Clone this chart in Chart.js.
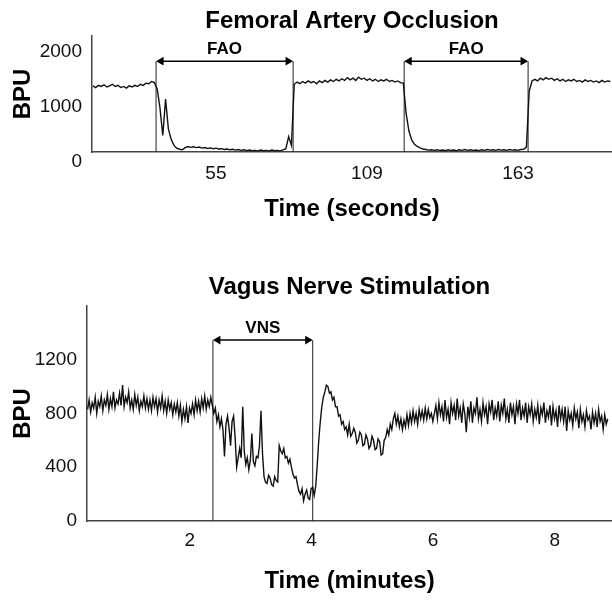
<!DOCTYPE html>
<html>
<head>
<meta charset="utf-8">
<script src="https://cdn.jsdelivr.net/npm/chart.js@4.4.1/dist/chart.umd.min.js"></script>
<style>
body { margin: 0; background: #fff; }
canvas { display: block; }
</style>
</head>
<body>
<canvas id="fao" width="612" height="240"></canvas>
<canvas id="vns" width="612" height="360"></canvas>
<script>

// femoral artery occlusion, one reading per second
var faoStart = 11;
var faoStep = 1;
var faoBpu = [
  1200,1170,1210,1190,1220,1180,1200,1230,1190,1210,1170,1190,1160,1200,1180,1210,1190,1230,1210,1250,1240,1280,1260,
  1150,800,300,960,420,230,120,70,
  50,40,80,100,85,95,80,90,70,80,65,75,60,70,55,60,45,55,40,50,35,45,30,40,25,35,25,30,20,35,25,30,20,35,25,30,20,40,60,280,120,1230,
  1270,1240,1280,1250,1290,1260,1280,1240,1290,1260,1300,1270,1310,1280,1320,1290,1330,1300,1350,1310,1340,1300,1360,1320,1340,1300,1330,1290,1320,1280,1310,1290,1320,1280,1300,1270,1290,1260,
  1250,700,380,220,140,100,75,55,
  45,35,40,30,40,30,35,25,40,30,35,25,40,30,45,30,40,30,35,25,40,30,45,35,40,30,45,35,40,30,45,35,40,30,45,50,
  90,1100,1290,
  1320,1290,1340,1310,1350,1320,1340,1300,1330,1290,1320,1280,1310,1290,1320,1280,1300,1270,1310,1280,1300,1270,1290,1260,1300,1270,1290,1280
];
var faoOn = [33.6, 122.3];
var faoOff = [82.6, 166.6];
var faoArrow = 1650;
var faoXTicks = [55, 109, 163];
var faoYTicks = [0, 1000, 2000];

// vagus nerve stimulation, one reading every 1.5 seconds
var vnsStart = 0.32;
var vnsStep = 0.025;
var vnsBpu = [
  830,900,810,880,840,920,800,890,850,930,820,900,860,940,830,910,850,960,840,900,
  870,950,860,1010,850,920,880,960,840,900,830,940,860,920,820,890,850,930,840,910,
  830,900,820,920,850,910,810,900,840,930,820,890,800,900,830,880,790,870,810,880,
  780,860,740,830,760,850,730,840,800,870,790,900,820,890,810,910,840,930,830,900,
  850,920,860,800,840,740,790,700,760,680,480,720,780,690,560,740,780,620,400,470,
  540,470,850,520,420,470,380,450,650,440,410,480,470,560,820,500,330,290,280,340,
  320,270,260,330,300,290,560,520,500,540,470,480,430,460,400,350,320,330,270,220,
  200,240,150,200,230,170,160,240,250,190,260,420,600,740,850,920,960,1010,1000,950,
  960,900,920,850,850,780,790,720,740,680,700,640,720,630,650,690,660,580,600,660,
  640,560,570,640,610,540,560,630,600,530,540,610,590,490,500,600,620,680,640,720,
  680,760,800,720,780,700,760,680,750,700,790,710,800,730,820,740,800,720,830,760,
  820,750,840,760,830,770,800,740,
  800,860,760,880,790,850,740,900,770,830,
  720,880,800,860,750,910,780,840,730,870,
  800,660,850,770,890,730,840,800,920,760,
  830,740,880,790,850,720,870,810,900,750,
  840,780,890,740,860,800,910,760,830,730,
  880,790,850,720,870,800,900,750,840,780,
  880,730,850,790,870,740,830,770,860,720,
  840,790,880,730,820,770,860,710,850,760,
  820,700,860,760,830,740,850,670,820,750,
  800,710,840,760,810,690,830,740,790,700,
  820,750,780,680,810,730,800,700,830,740,
  780,680,790,720,760
];
var vnsOn = [2.38];
var vnsOff = [4.02];
var vnsArrow = 1345;
var vnsXTicks = [2, 4, 6, 8];
var vnsYTicks = [0, 400, 800, 1200];

var FONT = '"Liberation Sans", Arial, sans-serif';
Chart.defaults.font.family = FONT;
Chart.defaults.color = '#000';

function to_points(start, step, values){
  var pts = [];
  for (var i = 0; i < values.length; i++){
    pts.push({ x: +(start + i * step).toFixed(3), y: values[i] });
  }
  return pts;
}

function event_sets(on, off, level, inset){
  var sets = [];
  for (var i = 0; i < on.length; i++){
    sets.push({ data: [{x: on[i], y: 0}, {x: on[i], y: level}], borderColor: '#222', borderWidth: 1, pointRadius: 0 });
    sets.push({ data: [{x: off[i], y: 0}, {x: off[i], y: level}], borderColor: '#222', borderWidth: 1, pointRadius: 0 });
    sets.push({
      data: [{x: on[i] + inset, y: level}, {x: off[i] - inset, y: level}],
      borderColor: '#000', backgroundColor: '#000', borderWidth: 1.5,
      pointStyle: 'triangle', pointRadius: 5, pointBorderWidth: 0,
      pointRotation: function(c){ return c.dataIndex == 0 ? -90 : 90; }
    });
  }
  return sets;
}

var eventLabels = {
  id: 'eventLabels',
  afterDatasetsDraw: function(chart, args, opts){
    var ctx = chart.ctx;
    var xs = chart.scales.x, ys = chart.scales.y;
    ctx.save();
    ctx.font = 'bold 17px ' + FONT;
    ctx.fillStyle = '#000';
    ctx.textAlign = 'center';
    ctx.textBaseline = 'middle';
    for (var i = 0; i < opts.on.length; i++){
      var mid = (xs.getPixelForValue(opts.on[i]) + xs.getPixelForValue(opts.off[i])) / 2;
      ctx.fillText(opts.text, mid, ys.getPixelForValue(opts.level) - 12);
    }
    ctx.restore();
  }
};

function plain(v){ return String(v); }

function make_chart(id, o){
  var trace = { data: to_points(o.start, o.step, o.values), borderColor: '#111', borderWidth: o.lineWidth, pointRadius: 0 };
  return new Chart(document.getElementById(id), {
    type: 'line',
    data: { datasets: [trace].concat(event_sets(o.on, o.off, o.level, o.inset)) },
    options: {
      responsive: false,
      animation: false,
      events: [],
      layout: { padding: 0, autoPadding: false },
      plugins: {
        legend: { display: false },
        tooltip: { enabled: false },
        title: {
          display: true, text: o.title, fullSize: false, color: '#000',
          font: { size: 24, weight: 'bold' },
          padding: { top: o.titleTop, bottom: o.titleBottom }
        },
        eventLabels: { text: o.label, on: o.on, off: o.off, level: o.level }
      },
      scales: {
        x: {
          type: 'linear', min: o.xMin, max: o.xMax,
          grid: { display: false, drawTicks: false },
          border: { color: '#444', width: 1.5 },
          ticks: { font: { size: 19 }, color: '#111', padding: o.xPad, maxRotation: 0, callback: plain },
          afterBuildTicks: function(a){ a.ticks = o.xTicks.map(function(v){ return {value: v}; }); },
          afterFit: function(a){ a.height = o.xHeight; },
          title: { display: true, text: o.xTitle, font: { size: 24, weight: 'bold' }, padding: { top: 0, bottom: o.xTitleBottom } }
        },
        y: {
          min: 0, max: o.yMax,
          grid: { display: false, drawTicks: false },
          border: { color: '#444', width: 1.5 },
          ticks: { font: { size: 19 }, color: '#111', padding: 10, labelOffset: o.yLabelOffset, callback: plain },
          afterBuildTicks: function(a){ a.ticks = o.yTicks.map(function(v){ return {value: v}; }); },
          afterFit: function(a){ a.width = o.yWidth; },
          title: { display: true, text: 'BPU', font: { size: 24, weight: 'bold' }, padding: { top: 9, bottom: 0 } }
        }
      }
    },
    plugins: [eventLabels]
  });
}

make_chart('fao', {
  start: faoStart, step: faoStep, values: faoBpu, lineWidth: 1.4,
  on: faoOn, off: faoOff, level: faoArrow, inset: 1.8, label: 'FAO',
  title: 'Femoral Artery Occlusion', titleTop: 7, titleBottom: 0,
  xMin: 10.7, xMax: 196.6, xTicks: faoXTicks, xTitle: 'Time (seconds)', xPad: 10, xHeight: 88, xTitleBottom: 16,
  yMax: 2110, yTicks: faoYTicks, yWidth: 92, yLabelOffset: 10
});

make_chart('vns', {
  start: vnsStart, step: vnsStep, values: vnsBpu, lineWidth: 1.4,
  on: vnsOn, off: vnsOff, level: vnsArrow, inset: 0.082, label: 'VNS',
  title: 'Vagus Nerve Stimulation', titleTop: 33, titleBottom: 4,
  xMin: 0.31, xMax: 8.94, xTicks: vnsXTicks, xTitle: 'Time (minutes)', xPad: 8, xHeight: 79, xTitleBottom: 4,
  yMax: 1600, yTicks: vnsYTicks, yWidth: 87, yLabelOffset: 0
});

</script>
</body>
</html>
